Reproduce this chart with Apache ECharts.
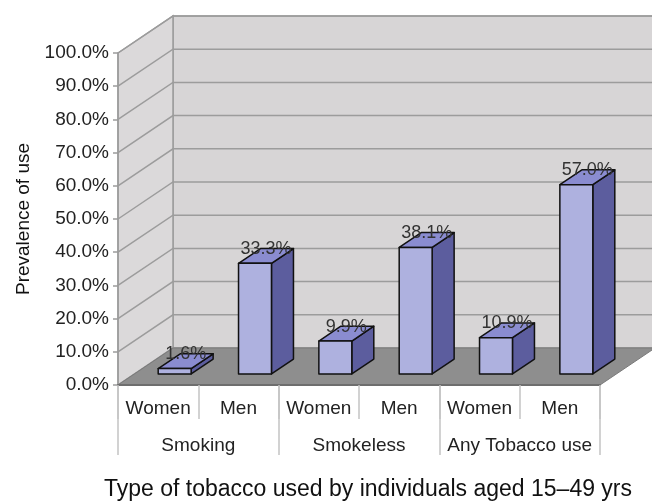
<!DOCTYPE html>
<html>
<head>
<meta charset="utf-8">
<script src="https://cdn.jsdelivr.net/npm/echarts@6/dist/echarts.min.js"></script>
<style>
    html, body { margin: 0; padding: 0; background: #fff; }
    #tobaccoChart { width: 652px; height: 502px; }
</style>
</head>
<body>
<div id="tobaccoChart"></div>
<script>
// 数据
const subCategories = ['Women', 'Men', 'Women', 'Men', 'Women', 'Men'];
const groups = ['Smoking', 'Smokeless', 'Any Tobacco use'];
const prevalence = [1.6, 33.3, 9.9, 38.1, 10.9, 57.0];
const yMin = 0, yMax = 100, yStep = 10;

// 3D 外观
const DX = 55, DY = -37;          // 景深偏移
const BAR_W = 0.41, D0 = 0.3, D1 = 0.7;
const font = '"Liberation Sans", Arial, sans-serif';
const c_wall = '#d7d5d6', c_side = '#dbd9da', c_floor = '#8e8e8e', c_grid = '#9c9c9c';
const c_front = '#aeb1df', c_right = '#5c5d9e', c_top = '#8a8cd0';

let Index = {
    init() {
        this.charts = {};
        this.tobaccoChart();
        window.addEventListener('resize', () => this.charts.tobaccoChart.resize());
    },
    // 墙面、地板和网格线
    renderWalls(params, api) {
        let cs = params.coordSys;
        let x0 = cs.x, x1 = cs.x + cs.width;
        let yb = api.coord([0, yMin])[1], yt = api.coord([0, yMax])[1];
        let children = [
            {type: 'rect', shape: {x: x0 + DX, y: yt + DY, width: x1 - x0, height: yb - yt},
                style: {fill: c_wall, stroke: c_grid, lineWidth: 1.5}},
            {type: 'polygon', shape: {points: [[x0, yt], [x0 + DX, yt + DY], [x0 + DX, yb + DY], [x0, yb]]},
                style: {fill: c_side, stroke: c_grid, lineWidth: 1.5}},
        ];
        for (let v = yMin; v <= yMax; v += yStep) {
            let y = api.coord([0, v])[1];
            children.push({type: 'polyline', shape: {points: [[x0, y], [x0 + DX, y + DY], [x1 + DX, y + DY]]},
                style: {fill: null, stroke: c_grid, lineWidth: 1.5}});
        }
        children.push({type: 'polygon', shape: {points: [[x0, yb], [x0 + DX, yb + DY], [x1 + DX, yb + DY], [x1, yb]]},
            style: {fill: c_floor, stroke: '#7a7a7a', lineWidth: 1}});
        return {type: 'group', children: children};
    },
    // 立体柱子
    renderBar(params, api) {
        let i = api.value(0), v = api.value(1);
        let base = api.coord([i, 0]), top = api.coord([i, v]);
        let w = api.size([1, 0])[0] * BAR_W;
        let xl = base[0] - w / 2 + DX * D0, xr = xl + w;
        let yb = base[1] + DY * D0, yt = top[1] + DY * D0;
        let ddx = DX * (D1 - D0), ddy = DY * (D1 - D0);
        let line = {stroke: '#111', lineWidth: 1.5, lineJoin: 'round'};
        return {
            type: 'group',
            children: [
                {type: 'polygon', shape: {points: [[xr, yb], [xr + ddx, yb + ddy], [xr + ddx, yt + ddy], [xr, yt]]},
                    style: Object.assign({fill: c_right}, line)},
                {type: 'polygon', shape: {points: [[xl, yt], [xr, yt], [xr + ddx, yt + ddy], [xl + ddx, yt + ddy]]},
                    style: Object.assign({fill: c_top}, line)},
                {type: 'rect', shape: {x: xl, y: yt, width: w, height: yb - yt},
                    style: Object.assign({fill: c_front}, line)},
                {type: 'text', x: (xl + xr) / 2 + ddx / 2, y: yt + ddy / 2 + 2,
                    style: {text: v.toFixed(1) + '%', fill: '#333', font: '18px ' + font,
                        align: 'center', verticalAlign: 'bottom'}}
            ]
        };
    },
    tobaccoChart() {
        let chart = echarts.init(document.getElementById('tobaccoChart'));
        this.charts.tobaccoChart = chart;
        chart.setOption({
            backgroundColor: '#fff',
            animation: false,
            textStyle: {fontFamily: font},
            grid: {left: 118, right: 52, top: 53, bottom: 117, containLabel: false, outerBoundsMode: 'none'},
            xAxis: [{
                type: 'category',
                data: subCategories,
                axisLine: {show: true, lineStyle: {color: '#6e6e6e', width: 2}},
                axisTick: {show: true, interval: 0, length: 34, lineStyle: {color: '#c4c4c4', width: 1.5}},
                axisLabel: {interval: 0, margin: 14, fontSize: 19, color: '#222'},
                z: 1
            }, {
                type: 'category',
                position: 'bottom',
                data: groups,
                axisLine: {show: false},
                axisTick: {show: true, interval: 0, length: 70, lineStyle: {color: '#c4c4c4', width: 1.5}},
                axisLabel: {interval: 0, margin: 51, fontSize: 19, color: '#222'},
                name: 'Type of tobacco used by individuals aged 15\u201349 yrs',
                nameLocation: 'middle',
                nameGap: 93,
                nameTextStyle: {fontSize: 23, color: '#111', padding: [0, 0, 0, 18]}
            }],
            yAxis: {
                type: 'value',
                min: yMin,
                max: yMax,
                interval: yStep,
                name: 'Prevalence of use',
                nameLocation: 'middle',
                nameRotate: 90,
                nameGap: 82,
                nameTextStyle: {fontSize: 19, color: '#111'},
                axisLine: {show: true, lineStyle: {color: c_grid, width: 1.5}},
                axisTick: {show: true, length: 5, lineStyle: {color: c_grid, width: 1.5}},
                axisLabel: {margin: 9, fontSize: 19, color: '#222', formatter: v => v.toFixed(1) + '%'},
                splitLine: {show: false}
            },
            series: [{
                type: 'custom',
                name: 'walls',
                silent: true,
                clip: false,
                z: 0,
                data: [[0, 0]],
                renderItem: (params, api) => this.renderWalls(params, api)
            }, {
                type: 'custom',
                name: 'Prevalence',
                clip: false,
                z: 2,
                data: prevalence.map((v, i) => [i, v]),
                encode: {x: 0, y: 1},
                renderItem: (params, api) => this.renderBar(params, api)
            }]
        });
    }
};
Index.init();
</script>
</body>
</html>
